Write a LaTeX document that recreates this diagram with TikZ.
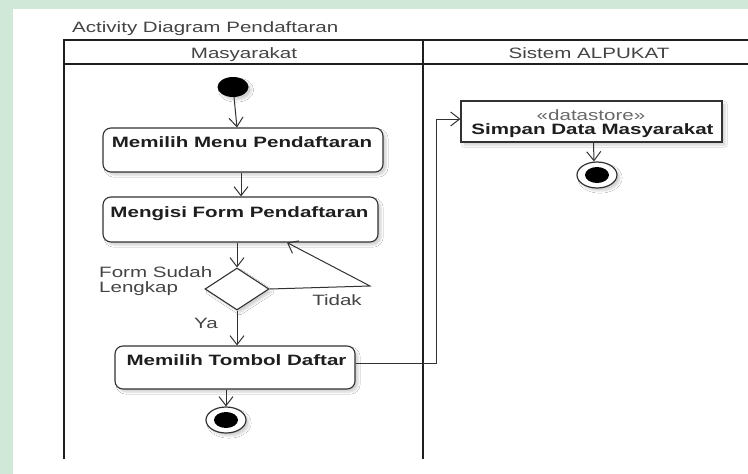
\documentclass[tikz,border=0pt]{standalone}
\usepackage{fontspec}
\setmainfont{Liberation Sans}
\usepackage{graphicx}
\usetikzlibrary{arrows.meta,shapes.geometric,shadows.blur}

\definecolor{mint}{RGB}{207,232,216}
\definecolor{inkline}{RGB}{50,50,50}
\definecolor{inktext}{RGB}{30,30,30}
\definecolor{softtext}{RGB}{68,68,68}
\definecolor{stereo}{RGB}{105,105,105}

% the diagram tool sets its lettering wide
\newcommand{\stx}[1]{\scalebox{1.37}[1]{#1}}

\begin{document}
\begin{tikzpicture}[x=1pt,y=-1pt,
  every node/.style={font=\fontsize{15}{17}\selectfont},
  lane/.style={draw=black!88, line width=2.5pt},
  softshadow/.style={blur shadow={shadow xshift=3pt, shadow yshift=-3pt, shadow opacity=18, shadow blur steps=6}},
  actbox/.style={rectangle, draw=inkline, line width=1.1pt, rounded corners=8pt, fill=white, inner sep=0pt, softshadow},
  storebox/.style={rectangle, draw=inkline, line width=1.1pt, fill=white, inner sep=0pt, softshadow},
  acttxt/.style={anchor=base, inner sep=0pt, text=inktext, font=\fontsize{15}{17}\selectfont\bfseries},
  plaintxt/.style={anchor=base, inner sep=0pt, text=softtext},
  decision/.style={diamond, draw=inkline, line width=1.1pt, fill=white, minimum width=64pt, minimum height=42pt, inner sep=0pt, softshadow},
  startdot/.style={ellipse, fill=black, minimum width=31pt, minimum height=20pt, inner sep=0pt, softshadow},
  endring/.style={ellipse, draw=inkline, line width=1.2pt, fill=white, minimum width=40pt, minimum height=26pt, inner sep=0pt, softshadow},
  endcore/.style={ellipse, fill=black, minimum width=24pt, minimum height=16pt, inner sep=0pt},
  flow/.style={draw=inkline, line width=1pt, -{Straight Barb[length=9pt,width=14pt]}}
]
% page and backdrop
\fill[mint] (0,0) rectangle (748,474);
\fill[white] (13,9) rectangle (748,474);
\useasboundingbox (0,0) rectangle (748,474);

% title
\node[plaintxt, anchor=base west] (title) at (72,32.5) {\stx{Activity Diagram Pendaftaran}};

% swimlanes
\draw[lane] (64,459) -- (64,40) -- (748,40);
\draw[lane, line width=1.7pt] (64,64) -- (748,64);
\draw[lane] (423,40) -- (423,459);
\node[plaintxt] (laneA) at (244,58) {\stx{Masyarakat}};
\node[plaintxt] (laneB) at (589,58) {\stx{Sistem ALPUKAT}};

% lane Masyarakat
\node[startdot] (start) at (233,87) {};

\node[actbox, minimum width=280pt, minimum height=44pt] (m1) at (243,150) {};
\node[acttxt] (m1t) at (242,147) {\stx{Memilih Menu Pendaftaran}};

\node[actbox, minimum width=275pt, minimum height=45pt] (m2) at (240.5,219.5) {};
\node[acttxt] (m2t) at (239.5,217.5) {\stx{Mengisi Form Pendaftaran}};

\node[decision] (d) at (237,289) {};
\node[plaintxt, anchor=base west] (dq1) at (99,277.5) {\stx{Form Sudah}};
\node[plaintxt, anchor=base west] (dq2) at (99,292.5) {\stx{Lengkap}};
\coordinate (turn) at (370,286);
\node[plaintxt] (tidak) at (337,305) {\stx{Tidak}};
\node[plaintxt] (ya) at (206,328) {\stx{Ya}};

\node[actbox, minimum width=240pt, minimum height=43pt] (m3) at (235,367.5) {};
\node[acttxt] (m3t) at (236.5,365) {\stx{Memilih Tombol Daftar}};

\node[endring] (e1) at (226,420) {};
\node[endcore] (e1c) at (e1) {};

% lane Sistem ALPUKAT
\node[storebox, minimum width=261pt, minimum height=41pt] (ds) at (591.5,121.5) {};
\node[plaintxt, text=stereo] (dss) at (591,120) {\stx{«datastore»}};
\node[acttxt] (dst) at (592.5,134.5) {\stx{Simpan Data Masyarakat}};

\node[endring] (e2) at (597,175) {};
\node[endcore] (e2c) at (e2) {};

% control flow
\draw[flow] (start) -- ([xshift=-6pt]m1.north);
\draw[flow] ([xshift=-2pt]m1.south) -- ([xshift=0.5pt]m2.north);
\draw[flow] (m2.south -| d) -- (d.north);
\draw[flow] (d.south) -- (d |- m3.north);
\draw[flow] (d.east) -- (turn) -- ([xshift=46.5pt]m2.south);
\draw[flow] (m3.south -| e1) -- (e1.north);

\coordinate (b1) at (436,363);
\coordinate (b2) at (436,119);
\draw[flow] ([yshift=4.5pt]m3.east) -- (b1) -- (b2) -- ([yshift=2.5pt]ds.west);
\draw[flow] ([xshift=2pt]ds.south) -- ([xshift=-3pt]e2.north);
\end{tikzpicture}
\end{document}
